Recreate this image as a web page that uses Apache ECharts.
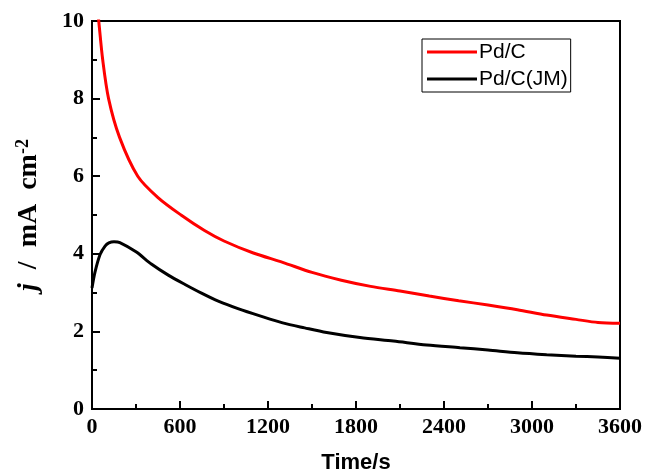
<!DOCTYPE html>
<html>
<head>
<meta charset="utf-8">
<script src="https://cdn.jsdelivr.net/npm/echarts@6/dist/echarts.min.js"></script>
<style>
html,body{margin:0;padding:0;background:#fff;}
#chart{width:645px;height:473px;}
</style>
</head>
<body>
<div id="chart"></div>
<script>
// Pd/C (red)
var timePdC = [20, 46, 73, 113, 188, 312, 450, 607, 767, 900, 1100, 1300, 1500, 1700, 1900, 2100, 2300, 2500, 2700, 2900, 3100, 3300, 3450, 3600];
var valPdC  = [11.0, 10.0, 9.0, 8.0, 7.0, 6.0, 5.45, 5.0, 4.6, 4.33, 4.02, 3.78, 3.52, 3.32, 3.16, 3.04, 2.91, 2.79, 2.68, 2.56, 2.42, 2.31, 2.23, 2.21];
// Pd/C(JM) (black)
var timeJM = [0, 20, 55, 89, 115, 150, 190, 300, 407, 520, 634, 750, 861, 1000, 1145, 1300, 1450, 1600, 1827, 2055, 2282, 2509, 2700, 2900, 3100, 3300, 3450, 3600];
var valJM  = [3.12, 3.52, 3.98, 4.2, 4.28, 4.31, 4.29, 4.05, 3.73, 3.45, 3.21, 2.98, 2.78, 2.58, 2.4, 2.22, 2.09, 1.97, 1.84, 1.75, 1.65, 1.58, 1.52, 1.45, 1.40, 1.36, 1.34, 1.31];
var seriesNames = ['Pd/C', 'Pd/C(JM)'];
var xTicks = [0, 600, 1200, 1800, 2400, 3000, 3600];
var yTicks = [0, 2, 4, 6, 8, 10];

function pairs(t, v) { return t.map(function (x, i) { return [x, v[i]]; }); }

var chart = echarts.init(document.getElementById('chart'), null, {renderer: 'canvas'});
var serif = '"Liberation Serif", "Times New Roman", serif';
var sans = '"Liberation Sans", Arial, sans-serif';
var xMin = xTicks[0], xMax = xTicks[xTicks.length - 1];
var yMin = yTicks[0], yMax = yTicks[yTicks.length - 1];

function minorAxis(min, max, interval, extra) {
  return Object.assign({
    type: 'value', min: min, max: max, interval: interval,
    axisLine: {show: false, onZero: false},
    axisTick: {show: true, inside: true, length: 5, lineStyle: {color: '#000', width: 2}},
    axisLabel: {show: false},
    splitLine: {show: false}
  }, extra);
}

chart.setOption({
  animation: false,
  backgroundColor: '#fff',
  grid: {left: 92, right: 25, top: 21, bottom: 64, show: true, borderColor: '#000', borderWidth: 2,
         backgroundColor: 'transparent', containLabel: false, outerBoundsMode: 'none'},
  legend: {
    data: seriesNames,
    orient: 'vertical',
    left: 422, top: 39,
    icon: 'rect',
    itemWidth: 50, itemHeight: 3, itemGap: 5,
    padding: [2, 3, 2, 5],
    borderColor: '#000', borderWidth: 1,
    textStyle: {fontFamily: sans, fontSize: 21, lineHeight: 22, color: '#000', padding: [0, 0, 0, -3]}
  },
  xAxis: [{
    type: 'value', min: xMin, max: xMax, interval: 600,
    name: 'Time/s', nameLocation: 'middle', nameGap: 43,
    nameTextStyle: {fontFamily: sans, fontWeight: 'bold', fontSize: 22, color: '#000'},
    axisLine: {show: true, onZero: false, lineStyle: {color: '#000', width: 2}},
    axisTick: {show: true, inside: true, length: 8, lineStyle: {color: '#000', width: 2}},
    splitLine: {show: false},
    axisLabel: {fontFamily: serif, fontWeight: 'bold', fontSize: 22, color: '#000', margin: 7,
      formatter: function (v) { return String(v); }}
  }, minorAxis(xMin, xMax, 300, {position: 'bottom'})],
  yAxis: [{
    type: 'value', min: yMin, max: yMax, interval: 2,
    name: '{i|j}{n|  /  mA  cm}{s|-2}', nameLocation: 'middle', nameGap: 48, nameRotate: 90,
    nameTextStyle: {
      color: '#000',
      rich: {
        i: {fontFamily: serif, fontWeight: 'bold', fontStyle: 'italic', fontSize: 28, color: '#000'},
        n: {fontFamily: serif, fontWeight: 'bold', fontSize: 28, color: '#000'},
        s: {fontFamily: serif, fontWeight: 'bold', fontSize: 18, color: '#000', verticalAlign: 'top', padding: [0, 0, 12, 0]}
      }
    },
    axisLine: {show: true, onZero: false, lineStyle: {color: '#000', width: 2}},
    axisTick: {show: true, inside: true, length: 8, lineStyle: {color: '#000', width: 2}},
    splitLine: {show: false},
    axisLabel: {fontFamily: serif, fontWeight: 'bold', fontSize: 22, color: '#000', margin: 8}
  }, minorAxis(yMin, yMax, 1, {position: 'left'})],
  series: [
    {name: seriesNames[0], type: 'line', data: pairs(timePdC, valPdC), symbol: 'none', smooth: 0.3,
     lineStyle: {color: '#ff0000', width: 3}, itemStyle: {color: '#ff0000'}, clip: true},
    {name: seriesNames[1], type: 'line', data: pairs(timeJM, valJM), symbol: 'none', smooth: 0.3,
     lineStyle: {color: '#000000', width: 3}, itemStyle: {color: '#000000'}, clip: true}
  ]
});
</script>
</body>
</html>
